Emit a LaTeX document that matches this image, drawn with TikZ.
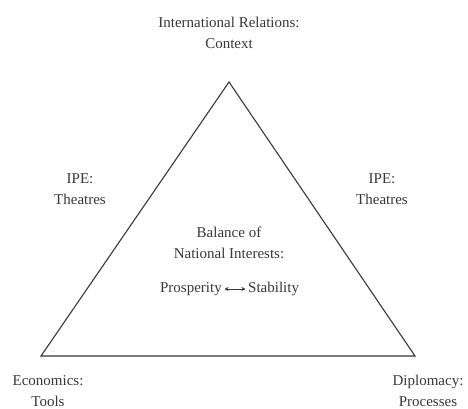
\documentclass[tikz,border=0pt]{standalone}
\usepackage{fontspec}
\setmainfont{Liberation Serif}
\usetikzlibrary{arrows.meta}
\definecolor{ink}{HTML}{383838}
\begin{document}
\begin{tikzpicture}[x=1pt,y=-1pt,
  lbl/.style={text=ink,font=\fontsize{15}{21}\selectfont,align=center,inner sep=0pt},
  edge/.style={draw=ink,line width=1.1pt,line join=miter}]
\useasboundingbox (0,0) rectangle (468,409);
\coordinate (top) at (229,82);
\coordinate (bl) at (41,356);
\coordinate (br) at (415,356);
\draw[edge] (top) -- (bl) -- (br) -- cycle;
\node[lbl] (ir) at (229,33) {International Relations:\\Context};
\node[lbl] (ipel) at (80,189) {IPE:\\Theatres};
\node[lbl] (iper) at (382,189) {IPE:\\Theatres};
\node[lbl] (bal) at (229,243) {Balance of\\National Interests:};
\node[lbl,anchor=east] (pros) at (222,289) {Prosperity};
\node[lbl,anchor=west] (stab) at (248,289) {Stability};
\draw[ink,line width=0.8pt,{Stealth[length=4pt,width=4pt]}-{Stealth[length=4pt,width=4pt]}] ([xshift=2.5pt]pros.east) -- ([xshift=-2.5pt]stab.west);
\node[lbl] (eco) at (48,391) {Economics:\\Tools};
\node[lbl] (dip) at (428,391) {Diplomacy:\\Processes};
\end{tikzpicture}
\end{document}
